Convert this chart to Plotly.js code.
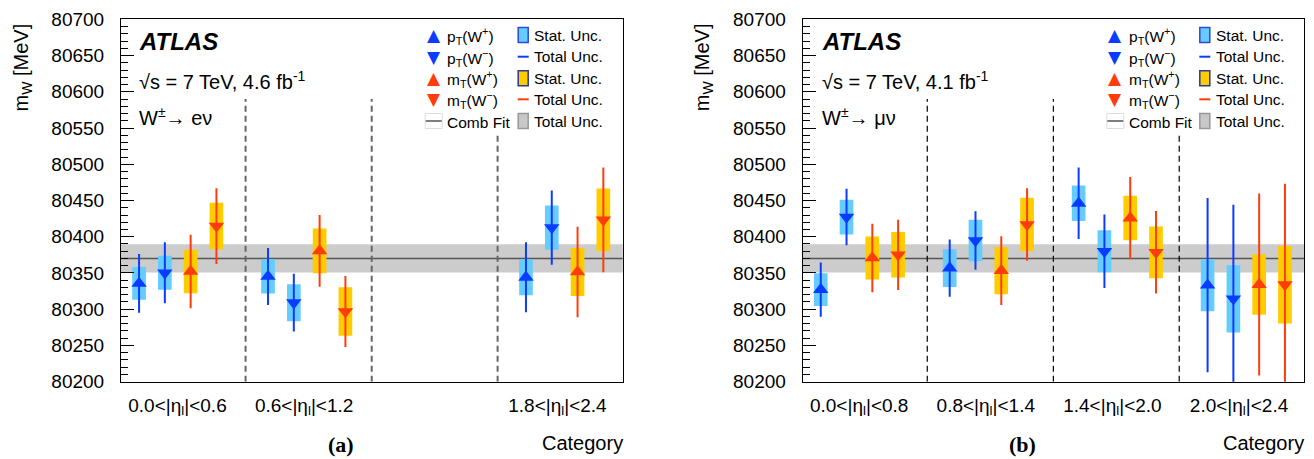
<!DOCTYPE html>
<html>
<head>
<meta charset="utf-8">
<script src="https://cdn.plot.ly/plotly-3.0.1.min.js"></script>
<style>html,body{margin:0;padding:0;background:#fff;}#chart{width:1314px;height:459px;}</style>
</head>
<body>
<div id="chart"></div>
<script>
// ---------- data ----------
const categoriesE  = ['0.0<|η<sub>l</sub>|<0.6', '0.6<|η<sub>l</sub>|<1.2', '', '1.8<|η<sub>l</sub>|<2.4'];
const categoriesMu = ['0.0<|η<sub>l</sub>|<0.8', '0.8<|η<sub>l</sub>|<1.4', '1.4<|η<sub>l</sub>|<2.0', '2.0<|η<sub>l</sub>|<2.4'];

// electron channel (third |eta| category excluded)
const ptWplusE       = [80335.6, 80345.2, null, 80344.1];
const ptWplusEStat   = [22.7, 23.6, null, 24.8];
const ptWplusETot    = [40.6, 39.4, null, 48.4];
const ptWminusE      = [80350.3, 80309.0, null, 80412.6];
const ptWminusEStat  = [23.6, 25.5, null, 30.5];
const ptWminusETot   = [42.2, 39.9, null, 51.1];
const mtWplusE       = [80352.1, 80380.5, null, 80351.4];
const mtWplusEStat   = [30.0, 31.0, null, 33.0];
const mtWplusETot    = [50.7, 49.5, null, 62.4];
const mtWminusE      = [80414.7, 80296.8, null, 80423.2];
const mtWminusEStat  = [32.1, 33.5, null, 43.3];
const mtWminusETot   = [52.3, 48.9, null, 72.2];

// muon channel
const ptWplusMu      = [80327.1, 80356.7, 80446.1, 80333.1];
const ptWplusMuStat  = [22.5, 25.9, 24.5, 35.8];
const ptWplusMuTot   = [37.4, 39.4, 49.3, 120.2];
const ptWminusMu     = [80427.1, 80394.8, 80379.9, 80314.3];
const ptWminusMuStat = [23.9, 28.7, 28.9, 46.3];
const ptWminusMuTot  = [39.0, 40.4, 50.7, 129.8];
const mtWplusMu      = [80370.7, 80353.3, 80425.7, 80334.0];
const mtWplusMuStat  = [29.8, 32.6, 30.7, 41.7];
const mtWplusMuTot   = [47.2, 47.5, 56.7, 125.5];
const mtWminusMu     = [80375.0, 80416.8, 80378.5, 80333.8];
const mtWminusMuStat = [31.4, 36.9, 35.8, 53.4];
const mtWminusMuTot  = [48.6, 50.0, 56.9, 139.2];

// combined fit
const combFit = 80370;
const combUnc = 19.5;

const yTickRange = [80200, 80700];

// ---------- styles ----------
const BLUE = '#0a3cff', LBLUE = '#66ccff', RED = '#ff3d0a', YELLOW = '#ffcc00';
const FONT = 'Liberation Sans, Arial, Helvetica, sans-serif';
const W = 1314, H = 459;
const px = v => v / W;
const py = v => 1 - v / H;

const panels = [
  {xa:'x', ya:'y', L:121, R:622.7, textX:138, cats:categoriesE, dashColor:'#666666', dashWidth:2,
   lumi:'√s = 7 TeV, 4.6 fb<sup>-1</sup>', chan:'W<sup>±</sup>→ eν', tag:'(a)',
   series:[
     {v:ptWplusE,  s:ptWplusEStat,  t:ptWplusETot,  sym:'triangle-up',   c:BLUE, box:LBLUE},
     {v:ptWminusE, s:ptWminusEStat, t:ptWminusETot, sym:'triangle-down', c:BLUE, box:LBLUE},
     {v:mtWplusE,  s:mtWplusEStat,  t:mtWplusETot,  sym:'triangle-up',   c:RED,  box:YELLOW},
     {v:mtWminusE, s:mtWminusEStat, t:mtWminusETot, sym:'triangle-down', c:RED,  box:YELLOW}]},
  {xa:'x2', ya:'y2', L:802.7, R:1304.3, textX:821, cats:categoriesMu, dashColor:'#000000', dashWidth:1.2,
   lumi:'√s = 7 TeV, 4.1 fb<sup>-1</sup>', chan:'W<sup>±</sup>→ μν', tag:'(b)',
   series:[
     {v:ptWplusMu,  s:ptWplusMuStat,  t:ptWplusMuTot,  sym:'triangle-up',   c:BLUE, box:LBLUE},
     {v:ptWminusMu, s:ptWminusMuStat, t:ptWminusMuTot, sym:'triangle-down', c:BLUE, box:LBLUE},
     {v:mtWplusMu,  s:mtWplusMuStat,  t:mtWplusMuTot,  sym:'triangle-up',   c:RED,  box:YELLOW},
     {v:mtWminusMu, s:mtWminusMuStat, t:mtWminusMuTot, sym:'triangle-down', c:RED,  box:YELLOW}]}
];

const traces = [];
const shapes = [];
const annotations = [];
const layout = {
  width: W, height: H,
  margin: {l:0, r:0, t:0, b:0},
  paper_bgcolor: '#fff', plot_bgcolor: '#fff',
  showlegend: false, barmode: 'overlay',
  font: {family: FONT, color: '#000'},
  shapes: shapes, annotations: annotations
};

const yDomain = [1 - 381.7 / H, 1 - 19.3 / H];

panels.forEach((p, pi) => {
  const xaName = pi === 0 ? 'xaxis' : 'xaxis2';
  const yaName = pi === 0 ? 'yaxis' : 'yaxis2';
  const tickPos = p.cats.map((_, c) => 1.49 + 4.91 * c);
  layout[xaName] = {
    domain: [px(p.L), px(p.R)], anchor: p.ya, range: [-0.7, 18.75],
    showline: true, mirror: true, linecolor: '#000', linewidth: 1,
    ticks: '', showgrid: false, zeroline: false,
    tickmode: 'array', tickvals: tickPos, ticktext: p.cats,
    tickfont: {family: FONT, size: 19, color: '#000'}, ticklabelstandoff: 6
  };
  layout[yaName] = {
    domain: yDomain, anchor: p.xa, range: yTickRange,
    showline: true, mirror: true, linecolor: '#000', linewidth: 1,
    ticks: 'inside', ticklen: 13, tickwidth: 1, tickcolor: '#000', dtick: 50, tick0: 80200,
    minor: {dtick: 10, ticklen: 7, ticks: 'inside', tickcolor: '#000', tickwidth: 1},
    showgrid: false, zeroline: false, tickformat: 'd',
    tickfont: {family: FONT, size: 19, color: '#000'}, ticklabelstandoff: 12
  };

  // combined fit band + line
  shapes.push({type:'rect', xref: p.xa + ' domain', yref: p.ya, x0: 0, x1: 1,
    y0: combFit - combUnc, y1: combFit + combUnc, fillcolor: '#cccccc', line: {width: 0}, layer: 'below'});
  shapes.push({type:'line', xref: p.xa + ' domain', yref: p.ya, x0: 0, x1: 1,
    y0: combFit, y1: combFit, line: {color: '#555555', width: 1.6}, layer: 'below'});

  // category separators
  [[4.13, 80590], [9.02, 80590], [13.9, 80542]].forEach(d => {
    shapes.push({type:'line', xref: p.xa, yref: p.ya, x0: d[0], x1: d[0], y0: yTickRange[0], y1: d[1],
      line: {color: p.dashColor, width: p.dashWidth, dash: '6px,4px'}, layer: 'below'});
  });

  // stat boxes
  p.series.forEach((s, si) => {
    const xs = s.v.map((_, c) => c * 5 + si);
    traces.push({type:'bar', xaxis: p.xa, yaxis: p.ya, x: xs,
      base: s.v.map((v, i) => v == null ? null : v - s.s[i]),
      y: s.s.map(e => e == null ? null : 2 * e),
      width: 0.53, marker: {color: s.box, line: {width: 0}}, hoverinfo: 'skip'});
  });
  // markers + total uncertainties
  p.series.forEach((s, si) => {
    const xs = s.v.map((_, c) => c * 5 + si);
    traces.push({type:'scatter', mode:'markers', xaxis: p.xa, yaxis: p.ya, x: xs, y: s.v,
      marker: {symbol: s.sym, size: 13.5, color: s.c, line: {width: 0}},
      error_y: {type: 'data', array: s.t, visible: true, thickness: 2, width: 0, color: s.c},
      hoverinfo: 'skip'});
  });

  // texts
  annotations.push({xref:'paper', yref:'paper', x: px(p.textX - 1), y: py(41.7), xanchor:'left', yanchor:'middle',
    text:'<b><i>ATLAS</i></b>', showarrow:false, font:{family: FONT, size: 24}});
  annotations.push({xref:'paper', yref:'paper', x: px(p.textX - 1), y: py(80), xanchor:'left', yanchor:'middle',
    text: p.lumi, showarrow:false, font:{family: FONT, size: 20}});
  annotations.push({xref:'paper', yref:'paper', x: px(p.textX - 1), y: py(116.7), xanchor:'left', yanchor:'middle',
    text: p.chan, showarrow:false, font:{family: FONT, size: 20}});
  annotations.push({xref:'paper', yref:'paper', x: px(p.R + 2), y: py(443), xanchor:'right', yanchor:'middle',
    text: 'Category', showarrow:false, font:{family: FONT, size: 20}});
  annotations.push({xref:'paper', yref:'paper', x: px(p.L + (p.R - p.L) / 2 - 31), y: py(444), xanchor:'center', yanchor:'middle',
    text: '<b>' + p.tag + '</b>', showarrow:false, font:{family: 'Liberation Serif, Times New Roman, serif', size: 22}});
  annotations.push({xref:'paper', yref:'paper', x: px(p.L - 99), y: py(67.5), xanchor:'center', yanchor:'middle',
    textangle: -90, text: 'm<sub>W</sub> [MeV]', showarrow:false, font:{family: FONT, size: 20}});

  // legend
  const rows = [35, 56.7, 78.3, 99.3, 121];
  const mX = p.R - 189, tX = p.R - 177.5, bX = p.R - 99.5, t2X = p.R - 90.5;
  const legMarks = [['▲', BLUE], ['▼', BLUE], ['▲', RED], ['▼', RED]];
  const legText = ['p<sub>T</sub>(W<sup>+</sup>)', 'p<sub>T</sub>(W<sup>−</sup>)', 'm<sub>T</sub>(W<sup>+</sup>)', 'm<sub>T</sub>(W<sup>−</sup>)', 'Comb Fit'];
  const legText2 = ['Stat. Unc.', 'Total Unc.', 'Stat. Unc.', 'Total Unc.', 'Total Unc.'];
  legMarks.forEach((m, i) => {
    annotations.push({xref:'paper', yref:'paper', x: px(mX), y: py(rows[i]), xanchor:'center', yanchor:'middle',
      text: m[0], showarrow:false, font:{family: 'DejaVu Sans', size: 17, color: m[1]}});
  });
  legText.forEach((t, i) => {
    annotations.push({xref:'paper', yref:'paper', x: px(tX), y: py(rows[i] + 1), xanchor:'left', yanchor:'middle',
      text: t, showarrow:false, font:{family: FONT, size: 15.5}});
  });
  legText2.forEach((t, i) => {
    annotations.push({xref:'paper', yref:'paper', x: px(t2X), y: py(rows[i]), xanchor:'left', yanchor:'middle',
      text: t, showarrow:false, font:{family: FONT, size: 15.5}});
  });
  // comb fit legend symbol
  shapes.push({type:'rect', xref:'paper', yref:'paper', x0: px(mX - 8.5), x1: px(mX + 8.5), y0: py(128.5), y1: py(113.5),
    fillcolor:'#ffffff', line:{color:'#dddddd', width:1}});
  shapes.push({type:'line', xref:'paper', yref:'paper', x0: px(mX - 8), x1: px(mX + 8), y0: py(121), y1: py(121),
    line:{color:'#555555', width:1.5}});
  // second column symbols
  shapes.push({type:'rect', xref:'paper', yref:'paper', x0: px(bX - 5), x1: px(bX + 5), y0: py(rows[0] + 7.5), y1: py(rows[0] - 7.5),
    fillcolor: LBLUE, line:{color:'#2a4bd8', width:1.5}});
  shapes.push({type:'line', xref:'paper', yref:'paper', x0: px(bX - 5.5), x1: px(bX + 5.5), y0: py(rows[1]), y1: py(rows[1]),
    line:{color: BLUE, width:2}});
  shapes.push({type:'rect', xref:'paper', yref:'paper', x0: px(bX - 5), x1: px(bX + 5), y0: py(rows[2] + 7.5), y1: py(rows[2] - 7.5),
    fillcolor: YELLOW, line:{color:'#2a3a8a', width:1.5}});
  shapes.push({type:'line', xref:'paper', yref:'paper', x0: px(bX - 5.5), x1: px(bX + 5.5), y0: py(rows[3]), y1: py(rows[3]),
    line:{color: RED, width:2}});
  shapes.push({type:'rect', xref:'paper', yref:'paper', x0: px(bX - 5), x1: px(bX + 5), y0: py(rows[4] + 7.5), y1: py(rows[4] - 7.5),
    fillcolor: '#c8c8c8', line:{color:'#999999', width:1.5}});
});

Plotly.newPlot('chart', traces, layout, {staticPlot: true, displayModeBar: false});
</script>
</body>
</html>
